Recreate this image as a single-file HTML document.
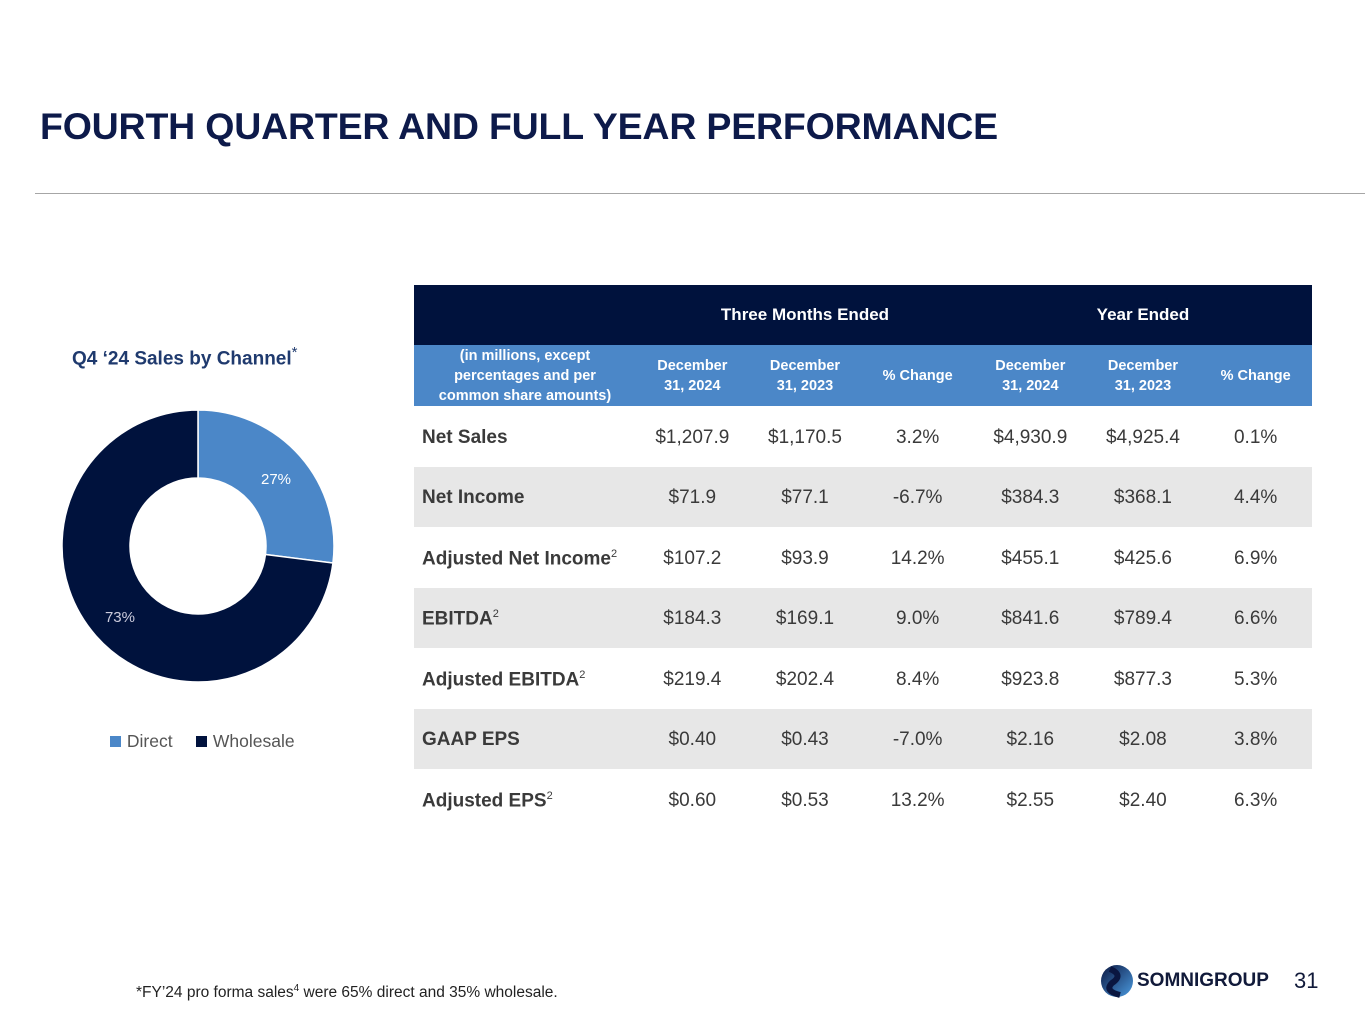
<!DOCTYPE html>
<html><head><meta charset="utf-8"><style>
body{margin:0;width:1365px;height:1024px;position:relative;background:#fff;font-family:"Liberation Sans",sans-serif;overflow:hidden}
.abs{position:absolute}
#title{left:40px;top:105px;font-size:37.5px;font-weight:bold;color:#0d1a4a;letter-spacing:-0.2px}
#rule{left:35px;top:193px;width:1330px;height:1px;background:#a6a6a6}
table{position:absolute;left:414px;top:285px;border-collapse:collapse;table-layout:fixed;width:898px}
td,th{padding:0;text-align:center;color:#3a3a3a;font-size:19px}
tr.h1 th{background:#00123d;color:#fff;height:60px;font-size:17px;line-height:20px}
tr.h2 th{background:#4b87c8;color:#fff;height:61px;font-size:14.5px;line-height:20px}
tr.d td{height:60.5px;padding-top:3px;box-sizing:border-box}
tr.d td:first-child{text-align:left;padding-left:8px;font-weight:bold}
tr.g td{background:#e7e7e7}
sup{font-size:11px;font-weight:normal}
</style></head><body>
<div id="title" class="abs">FOURTH QUARTER AND FULL YEAR PERFORMANCE</div>
<div id="rule" class="abs"></div>
<div class="abs" style="left:72px;top:344px;font-size:19px;font-weight:bold;color:#1f3a6e">Q4 ‘24 Sales by Channel<sup style="font-size:15px">*</sup></div>
<svg class="abs" style="left:0;top:0" width="400" height="780" id="donut"></svg>
<div class="abs" style="left:110px;top:731px;font-size:17.5px;color:#555;word-spacing:1px">
<span><span style="display:inline-block;width:11px;height:11px;background:#4b87c8"></span> Direct</span>&nbsp;&nbsp;&nbsp;
<span><span style="display:inline-block;width:11px;height:11px;background:#00123d"></span> Wholesale</span></div>
<table>
<colgroup><col style="width:222px"><col><col><col><col><col><col></colgroup>
<tr class="h1"><th></th><th colspan="3">Three Months Ended</th><th colspan="3">Year Ended</th></tr>
<tr class="h2"><th>(in millions, except<br>percentages and per<br>common share amounts)</th><th>December<br>31, 2024</th><th>December<br>31, 2023</th><th>% Change</th><th>December<br>31, 2024</th><th>December<br>31, 2023</th><th>% Change</th></tr>
<tr class="d"><td>Net Sales</td><td>$1,207.9</td><td>$1,170.5</td><td>3.2%</td><td>$4,930.9</td><td>$4,925.4</td><td>0.1%</td></tr>
<tr class="d g"><td>Net Income</td><td>$71.9</td><td>$77.1</td><td>-6.7%</td><td>$384.3</td><td>$368.1</td><td>4.4%</td></tr>
<tr class="d"><td>Adjusted Net Income<sup>2</sup></td><td>$107.2</td><td>$93.9</td><td>14.2%</td><td>$455.1</td><td>$425.6</td><td>6.9%</td></tr>
<tr class="d g"><td>EBITDA<sup>2</sup></td><td>$184.3</td><td>$169.1</td><td>9.0%</td><td>$841.6</td><td>$789.4</td><td>6.6%</td></tr>
<tr class="d"><td>Adjusted EBITDA<sup>2</sup></td><td>$219.4</td><td>$202.4</td><td>8.4%</td><td>$923.8</td><td>$877.3</td><td>5.3%</td></tr>
<tr class="d g"><td>GAAP EPS</td><td>$0.40</td><td>$0.43</td><td>-7.0%</td><td>$2.16</td><td>$2.08</td><td>3.8%</td></tr>
<tr class="d"><td>Adjusted EPS<sup>2</sup></td><td>$0.60</td><td>$0.53</td><td>13.2%</td><td>$2.55</td><td>$2.40</td><td>6.3%</td></tr>
</table>
<div class="abs" style="left:136px;top:983px;font-size:15.5px;color:#222">*FY’24 pro forma sales<sup style="font-size:10px">4</sup> were 65% direct and 35% wholesale.</div>
<svg class="abs" style="left:1100px;top:961px" width="34" height="40">
<defs><linearGradient id="lg" x1="0" y1="0" x2="1" y2="1"><stop offset="0" stop-color="#0a1640"/><stop offset="1" stop-color="#4b9be0"/></linearGradient></defs>
<circle cx="17" cy="20" r="16" fill="url(#lg)"/><path d="M10 8 Q24 14 12 22 Q4 30 20 34" stroke="#0a1640" stroke-width="6" fill="none"/></svg>
<div class="abs" style="left:1137px;top:970px;font-size:19px;font-weight:bold;color:#111a3a">SOMNIGROUP</div>
<div class="abs" style="left:1294px;top:968px;font-size:22px;color:#111a3a">31</div>
<script>
const categories=["Direct","Wholesale"];
const shares=[27,73];
const colors=["#4b87c8","#00123d"];
const svg=document.getElementById('donut');
const cx=198,cy=546,R=136,r=68;
const total=shares.reduce((a,b)=>a+b,0);
let a0=0;
shares.forEach((v,i)=>{
  const a1=a0+v/total*2*Math.PI;
  const p=(ang,rad)=>[cx+rad*Math.sin(ang),cy-rad*Math.cos(ang)];
  const [x1,y1]=p(a0,R),[x2,y2]=p(a1,R),[x3,y3]=p(a1,r),[x4,y4]=p(a0,r);
  const lg=(a1-a0)>Math.PI?1:0;
  const path=document.createElementNS('http://www.w3.org/2000/svg','path');
  path.setAttribute('d',`M${x1} ${y1}A${R} ${R} 0 ${lg} 1 ${x2} ${y2}L${x3} ${y3}A${r} ${r} 0 ${lg} 0 ${x4} ${y4}Z`);
  path.setAttribute('fill',colors[i]);
  path.setAttribute('stroke','#fff');
  path.setAttribute('stroke-width','1.5');
  
  
  svg.appendChild(path);
  const mid=(a0+a1)/2;const [lx,ly]=p(mid,(R+r)/2+2);
  const t=document.createElementNS('http://www.w3.org/2000/svg','text');
  t.setAttribute('x',lx);t.setAttribute('y',ly+7);
  t.setAttribute('text-anchor','middle');
  t.setAttribute('font-size','15');
  t.setAttribute('fill',i==0?'#fff':'#ccd');
  t.setAttribute('font-family','Liberation Sans, sans-serif');
  
  
  t.textContent=v+'%';
  svg.appendChild(t);
  a0=a1;
});
</script>
</body></html>
